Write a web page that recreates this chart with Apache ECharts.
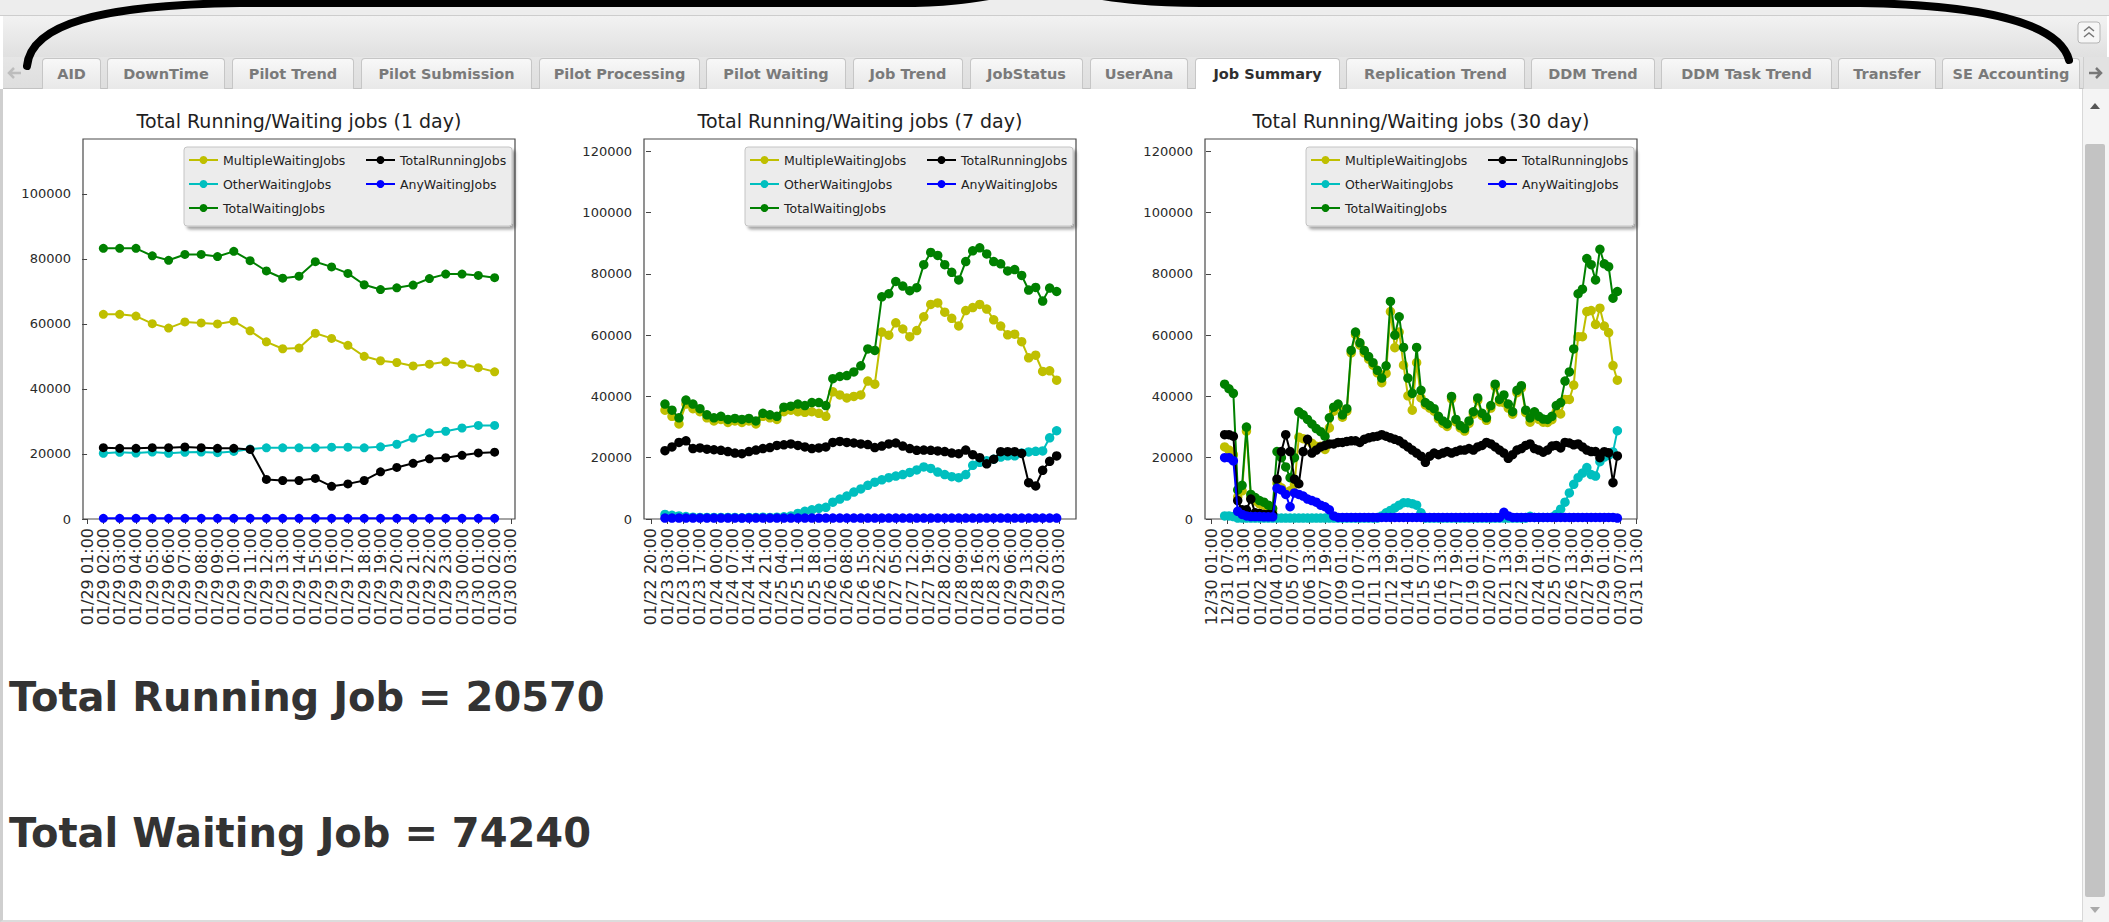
<!DOCTYPE html>
<html>
<head>
<meta charset="utf-8">
<title>Job Summary</title>
<script src="https://cdn.jsdelivr.net/npm/echarts@6/dist/echarts.min.js"></script>
<style>
  html, body { margin:0; padding:0; width:2109px; height:922px; overflow:hidden; background:#ffffff; font-family:"DejaVu Sans", sans-serif; }
  #band { position:absolute; left:0; top:0; width:2109px; height:15px; background:#ededed; border-bottom:1px solid #cdcdcd; }
  #head { position:absolute; left:3px; top:16px; width:2104px; height:41px; background:linear-gradient(#f2f2f2,#e0e0e0); }
  #strip { position:absolute; left:3px; top:57px; width:2104px; height:32px; background:linear-gradient(#e6e6e6,#dedede); border-bottom:1px solid #c2c2c2; box-sizing:border-box; }
  .tab { position:absolute; top:58px; height:31px; box-sizing:border-box; border:1px solid #c6c6c6; border-bottom:none; border-radius:4px 4px 0 0; background:linear-gradient(#f8f8f8,#e8e8e8); font-weight:bold; font-size:14.5px; color:#7a7a7a; text-align:center; line-height:30px; white-space:nowrap; overflow:hidden; }
  .tab.on { background:#ffffff; color:#2f2f2f; height:32px; }
  #rbox { position:absolute; left:2083px; top:57px; width:26px; height:32px; background:#e2e2e2; border-left:1px solid #cfcfcf; box-sizing:border-box; }
  #content { position:absolute; left:0; top:89px; width:2082px; height:833px; background:#fff; border-left:3px solid #cfcfcf; border-bottom:2px solid #dcdcdc; box-sizing:border-box; }
  #scroll { position:absolute; left:2082px; top:89px; width:27px; height:833px; background:#f4f4f4; border-left:1px solid #d8d8d8; box-sizing:border-box; }
  #thumb { position:absolute; left:2085px; top:144px; width:20px; height:753px; background:#c3c3c3; border-radius:2px; }
  .big { position:absolute; left:9px; font-weight:bold; font-size:40px; line-height:40px; color:#333; white-space:nowrap; }
  #chart { position:absolute; left:0; top:89px; width:1700px; height:560px; }
  #overlay { position:absolute; left:0; top:0; pointer-events:none; }
</style>
</head>
<body>
<div id="band"></div>
<div id="head"></div>
<div id="strip"></div>
<div id="tabs"></div>
<div id="rbox"></div>
<div id="content"></div>
<div id="scroll"></div>
<div id="thumb"></div>
<div id="chart"></div>
<div class="big" id="runTxt" style="top:677px;"></div>
<div class="big" id="waitTxt" style="top:813px;"></div>
<svg id="overlay" width="2109" height="922" viewBox="0 0 2109 922">
  <path d="M9 73 L21 73 M14 68 L9 73 L14 78" stroke="#bdbdbd" stroke-width="2.5" fill="none"/>
  <path d="M2089 73 L2101 73 M2096 68 L2101 73 L2096 78" stroke="#777" stroke-width="2.5" fill="none"/>
  <rect x="2078" y="22" width="22" height="21" rx="3" fill="#f6f6f6" stroke="#b5b5b5"/>
  <polyline points="2084,31 2089,27 2094,31" stroke="#777" stroke-width="1.5" fill="none"/>
  <polyline points="2084,37 2089,33 2094,37" stroke="#777" stroke-width="1.5" fill="none"/>
  <polygon points="2090,109 2100,109 2095,103" fill="#555"/>
  <polygon points="2090,907 2100,907 2095,913" fill="#aaa"/>
  <path d="M27 66 C31 24, 100 5, 240 3 L 900 3 C 980 3, 1000 -10, 1045 -10 C 1090 -10, 1110 3, 1200 3 L 1860 3 C 1990 5, 2060 25, 2069 60" stroke="#000" stroke-width="8" fill="none" stroke-linecap="round"/>
</svg>
<script>
// ---------- page texts ----------
const tabNames = ['AID','DownTime','Pilot Trend','Pilot Submission','Pilot Processing','Pilot Waiting','Job Trend','JobStatus','UserAna','Job Summary','Replication Trend','DDM Trend','DDM Task Trend','Transfer','SE Accounting'];
const activeTab = 'Job Summary';
const totalRunningJob = 20570;
const totalWaitingJob = 74240;

// ---------- chart titles / legend names ----------
const chartTitles = ['Total Running/Waiting jobs (1 day)','Total Running/Waiting jobs (7 day)','Total Running/Waiting jobs (30 day)'];
const seriesNames = ['MultipleWaitingJobs','OtherWaitingJobs','TotalWaitingJobs','TotalRunningJobs','AnyWaitingJobs'];

// ---------- tick labels ----------
const xLabels1 = ['01/29 01:00','01/29 02:00','01/29 03:00','01/29 04:00','01/29 05:00','01/29 06:00','01/29 07:00','01/29 08:00','01/29 09:00','01/29 10:00','01/29 11:00','01/29 12:00','01/29 13:00','01/29 14:00','01/29 15:00','01/29 16:00','01/29 17:00','01/29 18:00','01/29 19:00','01/29 20:00','01/29 21:00','01/29 22:00','01/29 23:00','01/30 00:00','01/30 01:00','01/30 02:00','01/30 03:00'];
const xLabels2 = ['01/22 20:00','01/23 03:00','01/23 10:00','01/23 17:00','01/24 00:00','01/24 07:00','01/24 14:00','01/24 21:00','01/25 04:00','01/25 11:00','01/25 18:00','01/26 01:00','01/26 08:00','01/26 15:00','01/26 22:00','01/27 05:00','01/27 12:00','01/27 19:00','01/28 02:00','01/28 09:00','01/28 16:00','01/28 23:00','01/29 06:00','01/29 13:00','01/29 20:00','01/30 03:00'];
const xLabels3 = ['12/30 01:00','12/31 07:00','01/01 13:00','01/02 19:00','01/04 01:00','01/05 07:00','01/06 13:00','01/07 19:00','01/09 01:00','01/10 07:00','01/11 13:00','01/12 19:00','01/14 01:00','01/15 07:00','01/16 13:00','01/17 19:00','01/19 01:00','01/20 07:00','01/21 13:00','01/22 19:00','01/24 01:00','01/25 07:00','01/26 13:00','01/27 19:00','01/29 01:00','01/30 07:00','01/31 13:00'];
const yTicks1 = [0, 20000, 40000, 60000, 80000, 100000];
const yTicks2 = [0, 20000, 40000, 60000, 80000, 100000, 120000];
const yTicks3 = [0, 20000, 40000, 60000, 80000, 100000, 120000];

// ---------- 1 day (hourly, 01/29 02:00 .. 01/30 02:00) ----------
const multiple1 = [62960,62960,62430,60100,58730,60630,60320,60000,60850,57880,54500,52380,52590,57140,55560,53440,50050,48680,48150,47090,47620,48360,47620,46560,45290];
const other1    = [20200,20500,20300,20600,20200,20500,20600,20400,20800,21500,21900,21900,21900,21900,22100,22100,21900,22200,23000,24900,26500,27000,28000,28800,28800];
const total1    = [83280,83280,83280,80950,79580,81380,81380,80740,82330,79470,76300,74070,74710,79150,77560,75560,72060,70580,71110,71960,73970,75340,75340,74920,74240];
const running1  = [21950,21750,21750,21950,21950,22150,21950,21750,21750,21400,12170,11850,11850,12490,10050,10800,11850,14500,15870,17140,18520,18840,19580,20320,20570];
const any1      = [200,200,200,200,200,200,200,200,200,200,200,200,200,200,200,200,200,200,200,200,200,200,200,200,200];

// ---------- 7 day (every 3 h, 01/23 02:00 .. 01/30 02:00) ----------
const multiple2 = [35500,33500,31000,37500,36000,35000,33000,32000,32500,31500,32000,31500,32000,31000,33500,33000,32500,35000,35500,35000,34800,35000,34500,33500,41500,40500,39500,40000,40500,45000,44000,61000,60000,64000,62000,59500,61500,66000,70000,70500,67500,65500,63000,68000,69000,70000,68500,65000,62960,60100,60320,57880,52590,53440,48150,48360,45290];
const other2    = [1500,1200,1000,800,600,500,500,500,500,500,500,400,500,500,600,500,600,700,1000,1800,2500,3000,3500,3800,5500,6500,7500,8800,9800,11000,12000,12800,13500,14000,14500,15200,16000,17000,16500,15300,14500,13800,13500,14500,17500,18500,19000,19500,20200,20600,20600,21500,21900,22100,22200,26500,28800];
const total2    = [37500,35500,33000,38800,37500,36000,34000,33000,33500,32500,32800,32500,32800,32000,34500,34000,33500,36500,36800,37500,37000,38000,38000,37000,45800,46500,46800,48000,50000,55500,55000,72500,73500,77500,76000,74500,75500,83000,87000,86000,83000,80500,78000,84000,87500,88500,86500,84000,83280,80950,81380,79470,74710,75560,71110,75340,74240];
const running2  = [22300,23500,25000,25500,23000,23200,22800,22600,22400,22000,21500,21300,22000,22500,23000,23300,24000,24200,24500,24000,23500,23000,23200,23500,25000,25300,25000,24800,24500,24300,23300,23800,24500,24800,23800,23000,22400,22500,22400,22200,22000,21500,21300,22500,21000,20000,18000,19500,21950,21950,21950,21400,11850,10800,15870,18840,20570];
const any2      = [300,300,300,300,300,300,300,300,300,300,300,300,300,300,300,300,300,300,300,300,300,300,300,300,300,300,300,300,300,300,300,300,300,300,300,300,300,300,300,300,300,300,300,300,300,300,300,300,300,300,300,300,300,300,300,300,300];

// ---------- 30 day (every 8 h, 12/31 02:00 .. 01/30 02:00) ----------
const multiple3 = [23500,22500,21000,7200,9200,28700,6900,5900,4900,4500,
                   3500,2500,11700,10200,8700,9200,11200,26700,26200,25700,
                   24700,23700,23700,22700,29700,35200,36700,33200,35200,54200,
                   60200,56700,54200,52200,50200,47700,44500,47500,67700,55900,
                   61000,50200,40200,35500,51000,39500,37200,36200,35200,32700,
                   31200,30200,39200,31700,29700,28700,31200,34200,38700,33700,
                   32200,36200,43200,38200,38000,36200,34200,41200,42700,34700,
                   31600,34000,32500,31600,31500,32400,35000,34300,39000,39000,
                   43700,59500,59500,67700,68000,63500,68800,62960,60850,50050,45290];
const other3    = [1000,1000,800,300,300,300,300,300,300,300,
                   300,300,300,300,300,300,300,300,300,300,
                   300,300,300,300,300,300,300,300,300,300,
                   300,300,300,300,300,300,1000,2000,2800,3600,
                   4500,5300,5300,5000,4500,2000,300,300,300,300,
                   300,300,300,300,300,300,300,300,300,300,
                   300,300,300,300,300,300,300,300,300,300,
                   900,500,500,500,500,600,1500,3200,5500,8500,
                   11300,13500,15000,16800,14500,14000,18700,20200,20800,21900,28800];
const total3    = [44000,42500,41000,9500,11000,30000,8000,7000,6000,5500,
                   4500,3500,22000,20000,17000,13500,20000,35000,34000,32500,
                   31000,29500,28500,27000,33000,36500,37500,34000,36000,55000,
                   61000,57500,55000,53000,51000,48500,46000,50000,71000,60000,
                   66000,56000,46000,41000,56000,42000,38000,37000,36000,33500,
                   32000,31000,40000,32500,30500,29500,32000,35000,39500,34500,
                   33000,37000,44000,39000,40500,37500,35000,42000,43500,35500,
                   33000,35000,33500,32600,32500,33500,37000,38000,45000,48000,
                   55500,73500,75000,85000,83000,78000,88000,83280,82330,72060,74240];
const running3  = [27500,27500,27000,6000,3000,3000,6500,2000,1800,1500,
                   1500,1500,13000,22000,27500,22000,13000,11500,22000,26000,
                   21500,22500,23500,24000,24500,24500,25000,25000,25300,25500,
                   25500,25000,26000,26500,26800,27000,27500,27000,26500,26000,
                   25500,24500,23500,22500,21500,20500,18500,20500,21500,21000,
                   21500,22000,21500,22000,22500,22500,23000,22500,23500,24000,
                   25000,24500,23500,22500,21500,19800,21000,22500,23000,24000,
                   24500,23000,22500,21800,22500,23800,24000,23200,25000,24800,
                   24200,24500,23500,22500,22000,22000,20000,21950,21600,11850,20570];
const any3      = [20000,20000,19000,2500,1500,1000,800,800,800,700,
                   700,700,10000,9500,8000,4000,8500,8000,7500,6500,
                   6000,5500,4500,4000,3000,1000,500,500,500,500,
                   500,500,500,500,500,500,500,500,500,500,
                   500,500,500,500,500,500,500,500,500,500,
                   500,500,500,500,500,500,500,500,500,500,
                   500,500,500,500,2200,1000,500,500,500,500,
                   500,500,500,500,500,500,500,500,500,500,
                   500,500,500,500,500,500,500,500,500,500,300];

// ---------- layout / style (kept apart from the data) ----------
const tabSpans = [[42,101],[107,225],[232,354],[361,532],[539,700],[706,846],[853,963],[970,1083],[1090,1188],[1195,1340],[1346,1525],[1531,1655],[1661,1832],[1838,1936],[1942,2080]];
const seriesColors = ['#bfbf00','#00bfbf','#008000','#000000','#0000ff'];
const gridLeft = [83, 644, 1205];
const symbolSizes = [9, 9.5, 9.5];
const FONT = 'DejaVu Sans';

const tabsEl = document.getElementById('tabs');
tabNames.forEach((n, i) => {
  const d = document.createElement('div');
  d.className = 'tab' + (n === activeTab ? ' on' : '');
  d.style.left = tabSpans[i][0] + 'px';
  d.style.width = (tabSpans[i][1] - tabSpans[i][0]) + 'px';
  d.textContent = n;
  tabsEl.appendChild(d);
});
document.getElementById('runTxt').textContent = 'Total Running Job = ' + totalRunningJob;
document.getElementById('waitTxt').textContent = 'Total Waiting Job = ' + totalWaitingJob;

const panels = [
  { title: chartTitles[0], labels: xLabels1, tickStep: 1,  xStart: 1,  xStep: 1, xMin: -0.25, xMax: 26.25, yMax: 116900, yTicks: yTicks1,
    data: [multiple1, other1, total1, running1, any1] },
  { title: chartTitles[1], labels: xLabels2, tickStep: 7,  xStart: 6,  xStep: 3, xMin: -3,    xMax: 182.3, yMax: 124000, yTicks: yTicks2,
    data: [multiple2, other2, total2, running2, any2] },
  { title: chartTitles[2], labels: xLabels3, tickStep: 30, xStart: 25, xStep: 8, xMin: -11,   xMax: 781,   yMax: 124000, yTicks: yTicks3,
    data: [multiple3, other3, total3, running3, any3] }
];

const grids = [], xAxes = [], yAxes = [], series = [], titles = [], legends = [];
panels.forEach((p, k) => {
  const gl = gridLeft[k];
  grids.push({ left: gl, top: 50, width: 432, height: 380, show: true, borderColor: '#4a4a4a', borderWidth: 1.2, backgroundColor: '#ffffff' });
  const tickVals = p.labels.map((_, i) => i * p.tickStep);
  xAxes.push({
    type: 'value', gridIndex: k, min: p.xMin, max: p.xMax,
    axisLine: { show: false }, splitLine: { show: false },
    axisTick: { show: true, length: 5, lineStyle: { color: '#444', width: 1 }, customValues: tickVals },
    axisLabel: { customValues: tickVals, rotate: 90, margin: 9, fontSize: 16, color: '#2a2a2a', fontFamily: FONT,
      formatter: v => { const i = Math.round(v / p.tickStep); return p.labels[i] || ''; } }
  });
  yAxes.push({
    type: 'value', gridIndex: k, min: 0, max: p.yMax, interval: 20000,
    axisLine: { show: false }, splitLine: { show: false },
    axisTick: { show: true, length: 5, lineStyle: { color: '#444', width: 1 }, customValues: p.yTicks },
    axisLabel: { customValues: p.yTicks, margin: 12, fontSize: 13, color: '#2a2a2a', fontFamily: FONT, formatter: v => String(v) }
  });
  titles.push({ text: p.title, left: gl + 216, top: 22, textAlign: 'center', padding: 0,
    textStyle: { fontSize: 19, fontWeight: 'normal', color: '#1e1e1e', fontFamily: FONT } });
  legends.push({
    left: gl + 101, top: 58, orient: 'horizontal', width: 330, selectedMode: false,
    itemWidth: 29, itemHeight: 10, itemGap: 6, padding: [4, 4, 9, 4],
    backgroundColor: '#ececec', borderColor: '#c4c4c4', borderWidth: 1, borderRadius: 3,
    shadowColor: 'rgba(0,0,0,0.35)', shadowBlur: 3, shadowOffsetX: 3, shadowOffsetY: 3,
    textStyle: { fontSize: 12.5, color: '#222', fontFamily: FONT, lineHeight: 18 },
    data: [
      { name: seriesNames[0], textStyle: { width: 136 } },
      { name: seriesNames[3], textStyle: { width: 108 } },
      { name: seriesNames[1], textStyle: { width: 136 } },
      { name: seriesNames[4], textStyle: { width: 108 } },
      { name: seriesNames[2], textStyle: { width: 136 } }
    ]
  });
  p.data.forEach((vals, j) => {
    series.push({
      name: seriesNames[j], type: 'line', xAxisIndex: k, yAxisIndex: k,
      data: vals.map((v, i) => [p.xStart + p.xStep * i, v]),
      symbol: 'circle', symbolSize: symbolSizes[k], showSymbol: true, showAllSymbol: true,
      lineStyle: { color: seriesColors[j], width: 2 },
      itemStyle: { color: seriesColors[j] },
      emphasis: { disabled: true }, silent: true, z: 2 + j
    });
  });
});

const chart = echarts.init(document.getElementById('chart'), null, { renderer: 'svg' });
chart.setOption({
  animation: false,
  title: titles, legend: legends, grid: grids, xAxis: xAxes, yAxis: yAxes, series: series
});
</script>
</body>
</html>
